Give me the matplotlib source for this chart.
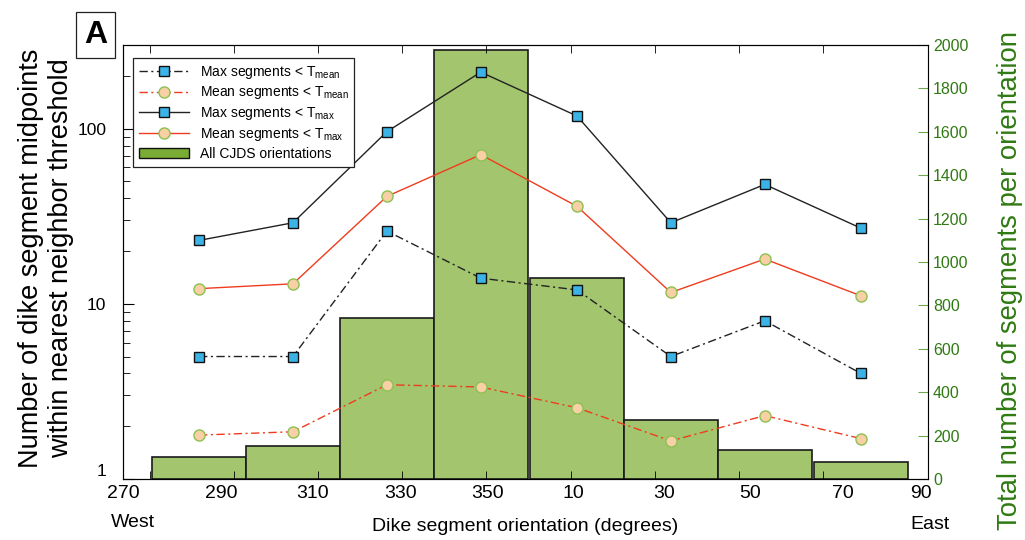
import numpy as np
import matplotlib.pyplot as plt
from matplotlib.patches import Patch
from matplotlib.lines import Line2D

plt.rcParams['font.family'] = ['Liberation Sans', 'DejaVu Sans']
plt.rcParams['mathtext.default'] = 'regular'

# orientation bin centres (degrees, wraps through north)
orient = np.array([287, 308, 329, 350, 11.5, 32.5, 53.5, 75])
bin_width = 21.1
tick_labels = ['270', '290', '310', '330', '350', '10', '30', '50', '70', '90']

max_tmean = [5, 5, 26, 14, 12, 5, 8, 4]
mean_tmean = [1.78, 1.86, 3.45, 3.35, 2.55, 1.65, 2.3, 1.7]
max_tmax = [23, 29, 96, 210, 118, 29, 48, 27]
mean_tmax = [12.2, 13, 41, 71, 36, 11.6, 18, 11.1]
all_counts = [100, 152, 744, 1975, 924, 272, 134, 79]

x = (orient - 270) % 360

green_txt = '#2f7a12'
green_spine = '#6ea84a'
blue = '#3bb3e6'
red = '#f03c1e'
peach = '#f9cfa5'
peach_edge = '#8cc152'
dd = (6, 2.5, 1.5, 2.5)

fig = plt.figure(figsize=(10.25, 5.4), dpi=100)
ax = fig.add_axes([0.12, 0.113, 0.7854, 0.8037])
ax2 = ax.twinx()

ax2.bar(x, all_counts, width=bin_width, color='#a2c56e', edgecolor='#1a1a1a', linewidth=1.2)
ax2.set_ylim(0, 2000)
ax2.set_yticks(np.arange(0, 2001, 200))
ax2.tick_params(axis='y', direction='in', length=7, colors=green_spine, labelcolor=green_txt, labelsize=11.5)
ax2.spines['right'].set_color(green_spine)
fig.text(1010 / 1025, 1 - 280 / 540, 'Total number of segments per orientation', color=green_txt,
         fontsize=19.8, rotation=90, ha='center', va='center')

ax.set_zorder(ax2.get_zorder() + 1)
ax.patch.set_visible(False)

ax.plot(x, max_tmean, color='#222222', lw=1, dashes=dd, marker='s', ms=7, mfc=blue, mec='#111111', mew=1)
ax.plot(x, mean_tmean, color=red, lw=1, dashes=dd, marker='o', ms=8, mfc=peach, mec=peach_edge, mew=1)
ax.plot(x, max_tmax, color='#222222', lw=1, marker='s', ms=7, mfc=blue, mec='#111111', mew=1)
ax.plot(x, mean_tmax, color=red, lw=1, marker='o', ms=8, mfc=peach, mec=peach_edge, mew=1)

ax.set_yscale('log')
ax.set_ylim(1, 300)
ax.set_yticks([1, 10, 100])
ax.set_yticklabels(['1', '10', '100'])
ax.get_yticklabels()[0].set_va('bottom')
ax.tick_params(axis='y', which='major', direction='in', length=8, labelsize=12.5, pad=12)
ax.tick_params(axis='y', which='minor', direction='in', length=5)
fig.text(46 / 1025, 1 - 258 / 540, 'Number of dike segment midpoints\nwithin nearest neighbor threshold',
         fontsize=19.5, rotation=90, ha='center', va='center', linespacing=1.2, multialignment='center')

ax.set_xlim(0, 180)
# label spots as placed in the original figure (slightly uneven)
ax.set_xticks([0, 22, 42.3, 62, 81.6, 100.6, 121, 140.3, 161, 178.5])
ax.set_xticklabels(tick_labels)
ax.tick_params(axis='x', which='major', length=0, labelsize=14, pad=4)
ax.set_xticks(np.linspace(6, 156.5, 9), minor=True)
ax.tick_params(axis='x', which='minor', direction='in', length=6, top=True, bottom=True)
ax.set_xlabel('Dike segment orientation (degrees)', fontsize=14, labelpad=12)
ax.text(-2.8, -0.08, 'West', transform=ax.get_xaxis_transform(), fontsize=14, ha='left', va='top')
ax.text(180.5, -0.085, 'East', transform=ax.get_xaxis_transform(), fontsize=14, ha='center', va='top')

handles = [
    Line2D([], [], color='#222222', lw=1, dashes=dd, marker='s', ms=7, mfc=blue, mec='#111111'),
    Line2D([], [], color=red, lw=1, dashes=dd, marker='o', ms=8, mfc=peach, mec=peach_edge),
    Line2D([], [], color='#222222', lw=1, marker='s', ms=7, mfc=blue, mec='#111111'),
    Line2D([], [], color=red, lw=1, marker='o', ms=8, mfc=peach, mec=peach_edge),
    Patch(facecolor='#7aab35', edgecolor='#111111'),
]
labels = ['Max segments < T$_{mean}$', 'Mean segments < T$_{mean}$',
          'Max segments < T$_{max}$', 'Mean segments < T$_{max}$',
          'All CJDS orientations']
leg = ax.legend(handles, labels, loc='upper left', bbox_to_anchor=(0.013, 0.97), borderaxespad=0,
                fontsize=10, handlelength=3.6, fancybox=False, edgecolor='#222222',
                framealpha=1, labelspacing=0.28)
leg.get_frame().set_linewidth(0.9)

fig.text(0.093, 0.935, 'A', fontsize=23, fontweight='bold', ha='center', va='center',
         bbox=dict(boxstyle='square,pad=0.25', facecolor='white', edgecolor='#222222', lw=0.9))

fig.savefig('out.png', dpi=100)
